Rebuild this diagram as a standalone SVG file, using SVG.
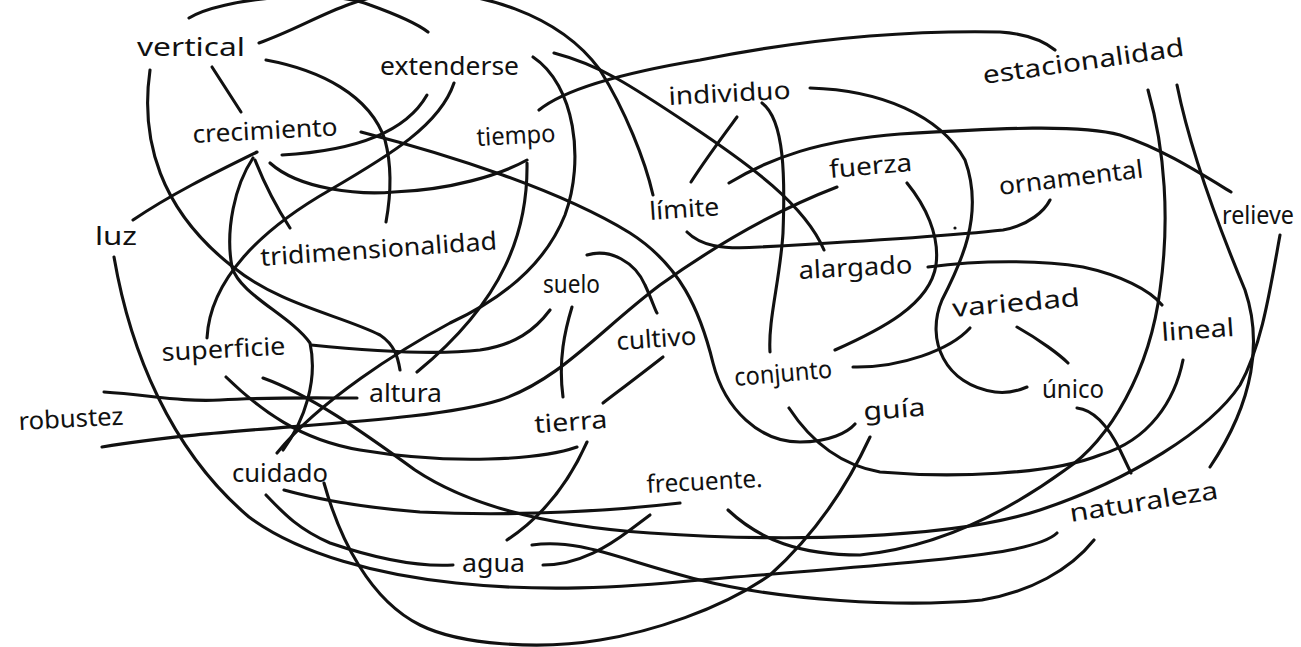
<svg xmlns="http://www.w3.org/2000/svg" width="1301" height="647" viewBox="0 0 1301 647">
<style>
.bg{fill:#ffffff}
.c{fill:none;stroke:#111;stroke-width:3.1;stroke-linecap:round;stroke-linejoin:round}
.t{font-family:"Noto Sans","DejaVu Sans",sans-serif;font-size:25px;fill:#111}
</style>
<rect class="bg" x="0" y="0" width="1301" height="647"/>
<g id="connectors">
<path class="c" d="M189,18 C220,-2 330,-12 370,5 C395,14 415,22 428,32"/>
<path class="c" d="M259,43 C310,25 340,0 400,-8 C480,-12 560,15 600,70 C625,110 645,160 653,195"/>
<path class="c" d="M212,67 L241,112"/>
<path class="c" d="M266,60 C320,70 370,95 385,140 C393,170 390,200 386,222"/>
<path class="c" d="M150,70 C140,140 160,210 233,267 C280,305 340,315 380,335 C395,345 398,358 400,370"/>
<path class="c" d="M427,95 C410,125 370,150 282,155"/>
<path class="c" d="M454,83 C440,125 390,155 330,190 C260,230 210,280 207,338"/>
<path class="c" d="M533,57 C575,85 585,160 565,215 C545,265 500,300 450,323 C400,350 320,400 277,453"/>
<path class="c" d="M554,53 C600,65 630,85 690,125 C750,165 805,205 824,250"/>
<path class="c" d="M257,152 C210,175 170,195 133,220"/>
<path class="c" d="M255,160 C265,185 275,205 290,228"/>
<path class="c" d="M253,158 C235,185 225,230 232,267 C240,295 290,315 310,343 C318,380 305,420 283,450"/>
<path class="c" d="M270,163 C300,190 360,195 394,192 C450,190 500,175 527,160"/>
<path class="c" d="M361,132 C450,155 560,190 630,233 C680,265 700,310 713,363 C725,410 760,442 800,442 C830,442 848,432 855,424"/>
<path class="c" d="M539,110 C570,85 640,70 700,60 C800,40 900,30 1000,32 C1030,34 1045,42 1055,50"/>
<path class="c" d="M527,163 C528,230 505,300 417,372"/>
<path class="c" d="M737,117 C720,140 705,160 691,182"/>
<path class="c" d="M762,103 C785,120 785,180 783,233 C780,280 768,320 770,352"/>
<path class="c" d="M810,88 C880,90 940,115 965,160 C985,215 960,265 942,300 C925,340 945,385 995,392 C1010,394 1020,390 1027,387"/>
<path class="c" d="M729,183 C770,158 820,140 900,134 C1000,128 1080,124 1120,135 C1160,148 1195,170 1231,192"/>
<path class="c" d="M687,232 C700,245 720,250 760,247 C850,242 950,236 1003,230 C1030,225 1045,210 1050,200"/>
<path class="c" d="M907,183 C925,205 940,235 936,265 C930,305 880,330 835,350"/>
<path class="c" d="M102,447 C230,425 420,425 500,400 C560,380 600,330 660,285 C730,235 790,205 837,187"/>
<path class="c" d="M104,392 C150,395 180,402 220,400 C270,397 320,398 357,398"/>
<path class="c" d="M311,345 C360,350 430,356 480,350 C515,345 535,330 550,310"/>
<path class="c" d="M226,377 C260,410 300,440 360,450 C450,465 540,460 577,447"/>
<path class="c" d="M263,378 C310,395 360,430 415,470 C460,500 530,525 650,533 C780,542 950,540 1040,510 C1130,480 1210,430 1240,385 C1262,345 1270,290 1280,235"/>
<path class="c" d="M1177,85 C1190,150 1220,230 1245,290 C1262,340 1255,400 1210,467"/>
<path class="c" d="M1148,90 C1165,150 1170,220 1160,290 C1150,370 1110,440 1065,470 C1010,510 940,547 860,555 C800,555 760,540 728,510"/>
<path class="c" d="M1183,360 C1175,400 1150,440 1100,455 C1050,475 950,478 880,472 C840,465 810,440 789,408"/>
<path class="c" d="M928,267 C980,260 1040,260 1083,267 C1120,275 1150,290 1162,305"/>
<path class="c" d="M853,367 C900,368 950,350 970,328"/>
<path class="c" d="M1017,327 C1040,340 1060,355 1068,363"/>
<path class="c" d="M1077,408 C1095,410 1110,430 1120,450 L1131,473"/>
<path class="c" d="M572,307 C565,330 558,360 563,397"/>
<path class="c" d="M587,255 C610,248 635,262 645,285 C652,300 655,310 657,313"/>
<path class="c" d="M663,357 C640,375 620,390 603,403"/>
<path class="c" d="M587,442 C570,480 545,515 507,540"/>
<path class="c" d="M266,495 C285,515 300,530 330,543 C380,560 420,567 453,565"/>
<path class="c" d="M284,490 C320,500 370,508 420,512 C520,517 620,510 680,503"/>
<path class="c" d="M324,483 C340,540 370,600 420,625 C460,645 540,650 600,640 C650,632 720,610 770,575 C820,530 850,480 870,437"/>
<path class="c" d="M532,545 C580,538 620,560 700,580 C780,600 900,608 982,600 C1030,592 1070,570 1094,540"/>
<path class="c" d="M543,565 C580,565 610,545 630,530 L650,515"/>
<path class="c" d="M114,257 C130,350 170,450 249,517 C300,555 380,575 456,583 C540,592 620,588 700,580 C820,570 960,560 1010,550 C1035,545 1050,540 1057,533"/>
<circle cx="955" cy="228" r="1.6" fill="#111"/>
</g>
<g id="n-vertical"><text class="t" x="137" y="56" textLength="108" lengthAdjust="spacingAndGlyphs">vertical</text></g>
<g id="n-extenderse"><text class="t" x="380" y="75" textLength="139" lengthAdjust="spacingAndGlyphs">extenderse</text></g>
<g id="n-crecimiento"><text class="t" x="193" y="143" textLength="145" lengthAdjust="spacingAndGlyphs" transform="rotate(-3 193 143)">crecimiento</text></g>
<g id="n-tiempo"><text class="t" x="477" y="146" textLength="79" lengthAdjust="spacingAndGlyphs" transform="rotate(-3 477 146)">tiempo</text></g>
<g id="n-individuo"><text class="t" x="669" y="105" textLength="122" lengthAdjust="spacingAndGlyphs" transform="rotate(-3 669 105)">individuo</text></g>
<g id="n-estacionalidad"><text class="t" x="984" y="84" textLength="203" lengthAdjust="spacingAndGlyphs" transform="rotate(-8 984 84)">estacionalidad</text></g>
<g id="n-limite"><text class="t" x="650" y="220" textLength="70" lengthAdjust="spacingAndGlyphs" transform="rotate(-4 650 220)">límite</text></g>
<g id="n-fuerza"><text class="t" x="830" y="178" textLength="83" lengthAdjust="spacingAndGlyphs" transform="rotate(-5 830 178)">fuerza</text></g>
<g id="n-ornamental"><text class="t" x="1000" y="195" textLength="145" lengthAdjust="spacingAndGlyphs" transform="rotate(-7 1000 195)">ornamental</text></g>
<g id="n-relieve"><text class="t" x="1222" y="224" textLength="72" lengthAdjust="spacingAndGlyphs">relieve</text></g>
<g id="n-luz"><text class="t" x="95" y="245" textLength="42" lengthAdjust="spacingAndGlyphs">luz</text></g>
<g id="n-tridimensionalidad"><text class="t" x="261" y="266" textLength="237" lengthAdjust="spacingAndGlyphs" transform="rotate(-4 261 266)">tridimensionalidad</text></g>
<g id="n-suelo"><text class="t" x="543" y="293" textLength="57" lengthAdjust="spacingAndGlyphs">suelo</text></g>
<g id="n-alargado"><text class="t" x="799" y="279" textLength="114" lengthAdjust="spacingAndGlyphs" transform="rotate(-3 799 279)">alargado</text></g>
<g id="n-variedad"><text class="t" x="953" y="317" textLength="128" lengthAdjust="spacingAndGlyphs" transform="rotate(-5 953 317)">variedad</text></g>
<g id="n-lineal"><text class="t" x="1162" y="341" textLength="73" lengthAdjust="spacingAndGlyphs" transform="rotate(-4 1162 341)">lineal</text></g>
<g id="n-superficie"><text class="t" x="162" y="361" textLength="124" lengthAdjust="spacingAndGlyphs" transform="rotate(-3 162 361)">superficie</text></g>
<g id="n-cultivo"><text class="t" x="617" y="350" textLength="80" lengthAdjust="spacingAndGlyphs" transform="rotate(-4 617 350)">cultivo</text></g>
<g id="n-conjunto"><text class="t" x="735" y="386" textLength="98" lengthAdjust="spacingAndGlyphs" transform="rotate(-5 735 386)">conjunto</text></g>
<g id="n-unico"><text class="t" x="1042" y="398" textLength="62" lengthAdjust="spacingAndGlyphs">único</text></g>
<g id="n-altura"><text class="t" x="369" y="402" textLength="73" lengthAdjust="spacingAndGlyphs">altura</text></g>
<g id="n-robustez"><text class="t" x="19" y="430" textLength="105" lengthAdjust="spacingAndGlyphs" transform="rotate(-3 19 430)">robustez</text></g>
<g id="n-tierra"><text class="t" x="535" y="433" textLength="73" lengthAdjust="spacingAndGlyphs" transform="rotate(-4 535 433)">tierra</text></g>
<g id="n-guia"><text class="t" x="864" y="420" textLength="62" lengthAdjust="spacingAndGlyphs" transform="rotate(-4 864 420)">guía</text></g>
<g id="n-cuidado"><text class="t" x="232" y="482" textLength="96" lengthAdjust="spacingAndGlyphs">cuidado</text></g>
<g id="n-frecuente"><text class="t" x="647" y="493" textLength="116" lengthAdjust="spacingAndGlyphs" transform="rotate(-3 647 493)">frecuente.</text></g>
<g id="n-naturaleza"><text class="t" x="1071" y="522" textLength="150" lengthAdjust="spacingAndGlyphs" transform="rotate(-9 1071 522)">naturaleza</text></g>
<g id="n-agua"><text class="t" x="462" y="572" textLength="63" lengthAdjust="spacingAndGlyphs">agua</text></g>
</svg>
